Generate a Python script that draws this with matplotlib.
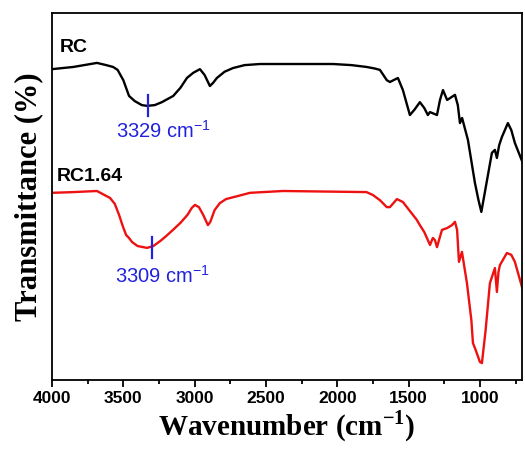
import matplotlib
matplotlib.use("Agg")
import matplotlib.pyplot as plt
from matplotlib.ticker import MultipleLocator, NullLocator

# ---- data (arbitrary transmittance units) ----
rc_wn = [4000, 3850, 3685, 3620, 3572, 3540, 3500, 3460, 3420, 3370, 3334, 3280, 3230, 3150,
         3100, 3054, 3010, 2963, 2930, 2893, 2870, 2844, 2790, 2731, 2650, 2542, 2030, 1900,
         1795, 1740, 1701, 1653, 1631, 1575, 1540, 1491, 1460, 1421, 1390, 1365,
         1350, 1301, 1280, 1259, 1230, 1210, 1175, 1155, 1140, 1125, 1084, 1035, 1010, 990,
         950, 916, 895, 881, 865, 846, 804, 780, 755, 699]
rc_t = [84.7, 85.3, 86.4, 85.8, 85.3, 84.5, 81.7, 77.4, 76.0, 74.9, 74.7, 74.9, 75.7, 77.4,
        79.6, 82.3, 83.7, 84.7, 83.1, 80.1, 81.0, 82.3, 84.0, 85.0, 85.8, 86.1, 86.1, 85.8,
        85.3, 84.9, 84.5, 81.7, 81.2, 82.3, 79.0, 72.2, 73.6, 75.7, 74.1, 72.2,
        73.0, 72.2, 76.3, 79.0, 76.3, 76.8, 77.7, 74.9, 70.0, 71.4, 65.4, 53.7, 49.0, 45.8,
        54.5, 61.9, 62.7, 60.5, 64.0, 66.2, 70.0, 68.1, 64.6, 59.1]

rc164_wn = [4000, 3850, 3685, 3593, 3560, 3530, 3502, 3480, 3460, 3439, 3400, 3334, 3290,
            3240, 3200, 3152, 3100, 3050, 3020, 2998, 2970, 2940, 2907, 2890, 2860, 2823,
            2780, 2700, 2612, 2381, 1795, 1750, 1701, 1653, 1631, 1582,
            1540, 1470, 1442, 1421, 1390, 1350, 1330, 1315, 1301, 1266, 1230, 1196, 1175,
            1160, 1147, 1126, 1091, 1060, 1049, 1030, 1000, 986, 960, 930, 895, 881, 870,
            860, 811, 780, 755, 699]
rc164_t = [51.0, 51.2, 51.5, 49.6, 48.0, 45.0, 41.7, 39.5, 38.7, 37.6, 36.5, 36.0, 36.5,
           37.9, 39.2, 40.9, 42.8, 45.0, 46.9, 47.7, 47.1, 45.0, 42.2, 43.1, 46.3, 48.2,
           49.3, 50.1, 51.0, 51.5, 51.2, 50.4, 49.0, 47.1, 47.1, 49.3,
           48.5, 45.0, 43.6, 42.2, 40.3, 36.8, 38.7, 38.1, 36.2, 40.9, 41.4, 42.2, 43.1,
           40.9, 32.2, 34.9, 26.4, 16.3, 10.1, 8.2, 4.9, 4.6, 13.6, 26.4, 30.5, 24.0, 29.4,
           31.3, 34.6, 34.1, 32.2, 24.5]

series_labels = ["RC", "RC1.64"]
peak_labels = ["3329 cm$^{\\mathregular{-1}}$", "3309 cm$^{\\mathregular{-1}}$"]
x_ticks = [4000, 3500, 3000, 2500, 2000, 1500, 1000]

# ---- figure ----
plt.rcParams['font.family'] = ['Liberation Sans', 'DejaVu Sans']
fig = plt.figure(figsize=(5.25, 4.51), dpi=100)
ax = fig.add_axes([52/525, 71/451, 470/525, 367/451])

ax.plot(rc_wn, rc_t, color='black', lw=1.7, solid_joinstyle='round')
ax.plot(rc164_wn, rc164_t, color='#ee1111', lw=1.7, solid_joinstyle='round')

ax.set_xlim(4000, 705)
ax.set_ylim(0, 100)

# peak markers
blue = '#2222dd'
ax.plot([3329, 3329], [77.7, 72.0], color=blue, lw=1.6)
ax.plot([3300, 3300], [38.9, 33.2], color=blue, lw=1.6)
ax.text(3220, 67.8, peak_labels[0], color=blue, fontsize=14.5, ha='center', va='center')
ax.text(3225, 28.5, peak_labels[1], color=blue, fontsize=14.5, ha='center', va='center')

# series labels
ax.text(3945, 90.5, series_labels[0], fontsize=14, fontweight='bold', ha='left', va='center')
ax.text(3965, 55.5, series_labels[1], fontsize=14, fontweight='bold', ha='left', va='center')

ax.set_xticks(x_ticks)
ax.xaxis.set_minor_locator(MultipleLocator(250))
ax.yaxis.set_major_locator(NullLocator())
ax.tick_params(axis='x', which='major', direction='out', length=5, width=1.3,
               labelsize=12.5, pad=3, top=False)
ax.tick_params(axis='x', which='minor', direction='out', length=3, width=1.3, top=False)
for lab in ax.get_xticklabels():
    lab.set_fontweight('bold')
for s in ax.spines.values():
    s.set_linewidth(1.3)

ax.set_xlabel("Wavenumber (cm$^{\\mathregular{-1}}$)", family=['Liberation Serif'],
              fontsize=21, fontweight='bold', labelpad=2)
ax.set_ylabel("Transmittance (%)", family=['Liberation Serif'],
              fontsize=22, fontweight='bold', labelpad=6)

fig.savefig("out.png", dpi=100)
